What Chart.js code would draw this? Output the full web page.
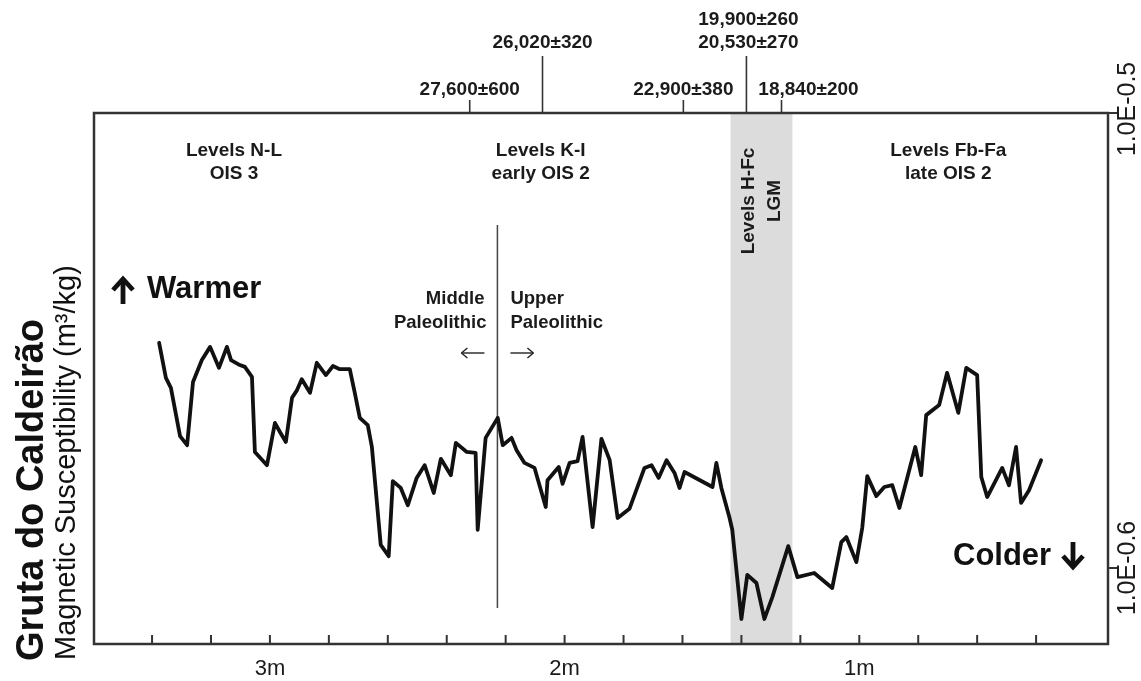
<!DOCTYPE html>
<html><head><meta charset="utf-8">
<script src="https://cdn.jsdelivr.net/npm/chart.js@4.4.1/dist/chart.umd.min.js"></script>
<style>html,body{margin:0;padding:0;background:#fff;overflow:hidden}#wrap{width:1141px;height:681px}</style>
</head><body><div id="wrap"><canvas id="c" width="1141" height="681"></canvas></div>
<script>
// ---- data (depth in m, susceptibility as log10 exponent) ----
const depth = [3.376,3.353,3.336,3.305,3.281,3.261,3.231,3.203,3.173,3.146,
3.132,3.102,3.085,3.061,3.051,3.010,2.983,2.966,2.946,2.925,
2.908,2.892,2.864,2.841,2.810,2.786,2.763,2.729,2.712,2.695,
2.668,2.654,2.624,2.597,2.583,2.556,2.532,2.502,2.475,2.444,
2.420,2.386,2.369,2.332,2.302,2.295,2.268,2.227,2.210,2.180,
2.163,2.136,2.102,2.064,2.058,2.020,2.007,1.983,1.956,1.939,
1.905,1.875,1.847,1.820,1.780,1.729,1.705,1.681,1.654,1.627,
1.610,1.593,1.498,1.485,1.468,1.441,1.431,1.400,1.380,1.349,
1.322,1.295,1.241,1.210,1.153,1.092,1.061,1.044,1.010,0.990,
0.973,0.942,0.915,0.888,0.864,0.810,0.790,0.773,0.729,0.702,
0.664,0.637,0.600,0.586,0.566,0.515,0.492,0.468,0.451,0.424,0.383];
const susceptibility = [-0.5505,-0.5582,-0.5604,-0.5710,-0.5730,-0.5591,-0.5543,-0.5514,-0.5560,-0.5514,
-0.5543,-0.5554,-0.5558,-0.5580,-0.5745,-0.5774,-0.5681,-0.5701,-0.5723,-0.5626,
-0.5609,-0.5585,-0.5615,-0.5549,-0.5576,-0.5556,-0.5563,-0.5563,-0.5615,-0.5670,
-0.5686,-0.5734,-0.5949,-0.5974,-0.5809,-0.5824,-0.5862,-0.5802,-0.5774,-0.5835,
-0.5760,-0.5796,-0.5725,-0.5745,-0.5747,-0.5916,-0.5714,-0.5670,-0.5730,-0.5714,
-0.5741,-0.5769,-0.5780,-0.5866,-0.5807,-0.5778,-0.5815,-0.5769,-0.5765,-0.5712,
-0.5910,-0.5716,-0.5763,-0.5890,-0.5870,-0.5780,-0.5774,-0.5802,-0.5763,-0.5791,
-0.5824,-0.5789,-0.5822,-0.5769,-0.5824,-0.5888,-0.5916,-0.6112,-0.6015,-0.6033,
-0.6112,-0.6064,-0.5952,-0.6020,-0.6011,-0.6044,-0.5943,-0.5932,-0.5987,-0.5912,
-0.5798,-0.5842,-0.5822,-0.5818,-0.5868,-0.5734,-0.5796,-0.5664,-0.5642,-0.5571,
-0.5659,-0.5560,-0.5576,-0.5800,-0.5844,-0.5780,-0.5818,-0.5734,-0.5857,-0.5829,-0.5763];
const xTickValues = [3.4,3.2,3.0,2.8,2.6,2.4,2.2,2.0,1.8,1.6,1.4,1.2,1.0,0.8,0.6,0.4];
const xLabelValues = [3,2,1];
const xLabels = ['3m','2m','1m'];
const yTickValues = [-0.5,-0.6];
const yTickLabels = ['1.0E-0.5','1.0E-0.6'];
const dateDepths = [2.322,2.075,1.597,1.383,1.264];
const dateLabels = [['27,600±600'],['26,020±320'],['22,900±380'],['19,900±260','20,530±270'],['18,840±200']];
const zoneDepths = [3.122,2.081,0.698];
const zoneLabels = [['Levels N-L','OIS 3'],['Levels K-I','early OIS 2'],['Levels Fb-Fa','late OIS 2']];
const lgmBand = [1.437,1.227];
const lgmLabel = ['Levels H-Fc','LGM'];
const paleoBoundary = 2.228;
const paleoSpan = [-0.5246,-0.6088];
const yTitle = 'Gruta do Caldeirão';
const ySubTitle = 'Magnetic Susceptibility (m³/kg)';

const FF = '"Liberation Sans", Arial, Helvetica, sans-serif';
const TXT = '#1b1b1b';

function seg(ctx,x1,y1,x2,y2){ctx.beginPath();ctx.moveTo(x1,y1);ctx.lineTo(x2,y2);ctx.stroke();}

const deco = {
  id:'deco',
  beforeDatasetsDraw(chart){
    const {ctx, chartArea:a, scales:{x,y}} = chart;
    ctx.save();
    const b0 = x.getPixelForValue(lgmBand[0]), b1 = x.getPixelForValue(lgmBand[1]);
    ctx.fillStyle = '#dcdcdc';
    ctx.fillRect(Math.min(b0,b1), a.top, Math.abs(b1-b0), a.bottom-a.top);
    const bc = (b0+b1)/2;
    ctx.fillStyle = TXT; ctx.font = 'bold 19px '+FF;
    ctx.textAlign = 'center'; ctx.textBaseline = 'middle';
    [[-13,lgmLabel[0]],[13,lgmLabel[1]]].forEach(([dx,t])=>{
      ctx.save(); ctx.translate(bc+dx, 201); ctx.rotate(-Math.PI/2); ctx.fillText(t,0,0); ctx.restore();
    });
    const px = x.getPixelForValue(paleoBoundary);
    ctx.strokeStyle = '#444'; ctx.lineWidth = 1.5;
    seg(ctx, px, y.getPixelForValue(paleoSpan[0]), px, y.getPixelForValue(paleoSpan[1]));
    ctx.restore();
  },
  afterDatasetsDraw(chart){
    const {ctx, chartArea:a, scales:{x,y}} = chart;
    ctx.save();
    ctx.strokeStyle = '#333'; ctx.lineWidth = 2.5;
    ctx.strokeRect(a.left, a.top, a.right-a.left, a.bottom-a.top);
    ctx.lineWidth = 2;
    xTickValues.forEach(v=>{const p=x.getPixelForValue(v); seg(ctx,p,a.bottom,p,a.bottom-9);});
    ctx.fillStyle = TXT; ctx.font = '22px '+FF; ctx.textAlign='center'; ctx.textBaseline='alphabetic';
    xLabelValues.forEach((v,i)=>{ctx.fillText(xLabels[i], x.getPixelForValue(v), 675);});
    ctx.lineWidth = 2;
    ctx.font = '25px '+FF; ctx.textBaseline='middle';
    yTickValues.forEach((v,i)=>{
      const p = y.getPixelForValue(v);
      seg(ctx, a.right, p, a.right+9, p);
      ctx.save(); ctx.translate(a.right+20, v===-0.5 ? p-4 : p); ctx.rotate(-Math.PI/2); ctx.fillText(yTickLabels[i],0,0); ctx.restore();
    });
    const layout = [{long:false,dx:0},{long:true,dx:0},{long:false,dx:0},{long:true,dx:2},{long:false,dx:27}];
    ctx.font = 'bold 19px '+FF; ctx.textBaseline='alphabetic'; ctx.lineWidth = 1.6; ctx.strokeStyle='#333';
    dateDepths.forEach((d,i)=>{
      const p = x.getPixelForValue(d), L = layout[i];
      seg(ctx, p, a.top, p, a.top - (L.long ? 57 : 13));
      const lines = dateLabels[i];
      const base = L.long ? 48 : 95;
      for(let k=lines.length-1, j=0; k>=0; k--, j++){
        ctx.fillText(lines[k], p + L.dx, base - j*23);
      }
    });
    zoneDepths.forEach((d,i)=>{
      const p = x.getPixelForValue(d);
      ctx.fillText(zoneLabels[i][0], p, 156);
      ctx.fillText(zoneLabels[i][1], p, 179);
    });
    const px = x.getPixelForValue(paleoBoundary);
    ctx.font = 'bold 18.5px '+FF;
    ctx.textAlign = 'right';
    ctx.fillText('Middle', px-13, 304); ctx.fillText('Paleolithic', px-11, 328);
    ctx.textAlign = 'left';
    ctx.fillText('Upper', px+13, 304); ctx.fillText('Paleolithic', px+13, 328);
    ctx.lineWidth = 1.4; ctx.strokeStyle = '#222';
    const ay = 353;
    seg(ctx, px-13, ay, px-36, ay); seg(ctx, px-36, ay, px-30, ay-5); seg(ctx, px-36, ay, px-30, ay+5);
    seg(ctx, px+13, ay, px+36, ay); seg(ctx, px+36, ay, px+30, ay-5); seg(ctx, px+36, ay, px+30, ay+5);
    ctx.fillStyle = '#111'; ctx.font = 'bold 31px '+FF; ctx.textAlign='left';
    ctx.fillText('Warmer', 147, 298);
    ctx.fillText('Colder', 953, 565);
    ctx.strokeStyle = '#111'; ctx.lineWidth = 4.8; ctx.lineJoin='miter'; ctx.lineCap='butt';
    seg(ctx, 123, 281, 123, 304);
    ctx.beginPath(); ctx.moveTo(113,290); ctx.lineTo(123,279); ctx.lineTo(133,290); ctx.stroke();
    seg(ctx, 1073, 542, 1073, 565);
    ctx.beginPath(); ctx.moveTo(1063,556); ctx.lineTo(1073,567); ctx.lineTo(1083,556); ctx.stroke();
    ctx.fillStyle = '#111'; ctx.textBaseline = 'alphabetic'; ctx.textAlign = 'left';
    ctx.save(); ctx.translate(43, 661); ctx.rotate(-Math.PI/2);
    ctx.font = 'bold 38px '+FF; ctx.fillText(yTitle, 0, 0); ctx.restore();
    ctx.save(); ctx.translate(75, 660); ctx.rotate(-Math.PI/2);
    ctx.font = '29px '+FF; ctx.fillText(ySubTitle, 0, 0); ctx.restore();
    ctx.restore();
  }
};

new Chart(document.getElementById('c'), {
  type: 'scatter',
  data: { datasets: [{
    data: depth.map((d,i)=>({x:d, y:susceptibility[i]})),
    showLine: true, borderColor: '#111', borderWidth: 3.8, pointRadius: 0,
    tension: 0, borderJoinStyle: 'round', borderCapStyle: 'round'
  }]},
  options: {
    responsive: false, animation: false, devicePixelRatio: 1,
    layout: { padding: { left: 94, right: 33, top: 113, bottom: 37 } },
    plugins: { legend: { display: false }, tooltip: { enabled: false } },
    scales: {
      x: { type: 'linear', reverse: true, min: 0.156, max: 3.597, display: false },
      y: { type: 'linear', min: -0.6167, max: -0.5, display: false }
    }
  },
  plugins: [deco]
});
</script></body></html>
